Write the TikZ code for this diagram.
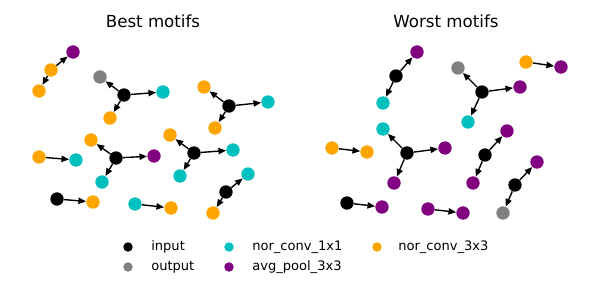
\documentclass[tikz,border=0pt]{standalone}
\usepackage{fontspec}
\setmainfont{DejaVu Sans}
\usetikzlibrary{arrows.meta, positioning}
\definecolor{opblack}{HTML}{000000}
\definecolor{opgray}{HTML}{808080}
\definecolor{opcyan}{HTML}{00BFBF}
\definecolor{oppurple}{HTML}{800080}
\definecolor{oporange}{HTML}{FFA500}
\tikzstyle{op} = [circle, inner sep=0pt, minimum size=9.6pt, draw=none]
\tikzstyle{inp} = [op, fill=opblack]
\tikzstyle{outp} = [op, fill=opgray]
\tikzstyle{one} = [op, fill=opcyan]
\tikzstyle{pool} = [op, fill=oppurple]
\tikzstyle{three} = [op, fill=oporange]
\tikzstyle{arrow} = [line width=1pt, -{Triangle[length=5.5pt, width=4.5pt]}]
\tikzstyle{key} = [circle, inner sep=0pt, minimum size=6.8pt]
\tikzstyle{keytext} = [anchor=mid west, inner sep=0pt, font=\fontsize{9.4}{11}\selectfont]

\begin{document}
\begin{tikzpicture}[x=0.72pt, y=-0.72pt]
\useasboundingbox (0,0) rectangle (600,300);

\node (besttitle) at (153,21) {\fontsize{12}{14}\selectfont Best motifs};
\node (worsttitle) at (446,21) {\fontsize{12}{14}\selectfont Worst motifs};

% best motifs
\node (b1a) [three] at (51,70) {};
\node (b1b) [pool] at (73,52) {};
\node (b1c) [three] at (39,91) {};
\draw[arrow] (b1a) -- (b1b);
\draw[arrow] (b1a) -- (b1c);

\node (b2a) [inp] at (124,95) {};
\node (b2b) [outp] at (100,77) {};
\node (b2c) [one] at (163,92) {};
\node (b2d) [three] at (110,118) {};
\draw[arrow] (b2a) -- (b2b);
\draw[arrow] (b2a) -- (b2c);
\draw[arrow] (b2a) -- (b2d);

\node (b3a) [inp] at (229,106) {};
\node (b3b) [three] at (204,87) {};
\node (b3c) [one] at (268,102) {};
\node (b3d) [three] at (215,128) {};
\draw[arrow] (b3a) -- (b3b);
\draw[arrow] (b3a) -- (b3c);
\draw[arrow] (b3a) -- (b3d);

\node (b4a) [inp] at (116,158) {};
\node (b4b) [three] at (91,140) {};
\node (b4c) [pool] at (154,156) {};
\node (b4d) [one] at (102,182) {};
\draw[arrow] (b4a) -- (b4b);
\draw[arrow] (b4a) -- (b4c);
\draw[arrow] (b4a) -- (b4d);

\node (b5a) [three] at (39,157) {};
\node (b5b) [one] at (76,160) {};
\draw[arrow] (b5a) -- (b5b);

\node (b6a) [inp] at (194,153) {};
\node (b6b) [three] at (170,135) {};
\node (b6c) [one] at (233,150) {};
\node (b6d) [one] at (180,176) {};
\draw[arrow] (b6a) -- (b6b);
\draw[arrow] (b6a) -- (b6c);
\draw[arrow] (b6a) -- (b6d);

\node (b7a) [inp] at (57,199) {};
\node (b7b) [three] at (93,202) {};
\draw[arrow] (b7a) -- (b7b);

\node (b8a) [one] at (135,204) {};
\node (b8b) [three] at (171,208) {};
\draw[arrow] (b8a) -- (b8b);

\node (b9a) [inp] at (226,192) {};
\node (b9b) [one] at (248,174) {};
\node (b9c) [three] at (213,213) {};
\draw[arrow] (b9a) -- (b9b);
\draw[arrow] (b9a) -- (b9c);

% worst motifs
\node (w1a) [inp] at (396,76) {};
\node (w1b) [pool] at (417,52) {};
\node (w1c) [one] at (383,103) {};
\draw[arrow] (w1a) -- (w1b);
\draw[arrow] (w1a) -- (w1c);

\node (w2a) [inp] at (482,92) {};
\node (w2b) [outp] at (458,68) {};
\node (w2c) [pool] at (520,87) {};
\node (w2d) [one] at (468,122) {};
\draw[arrow] (w2a) -- (w2b);
\draw[arrow] (w2a) -- (w2c);
\draw[arrow] (w2a) -- (w2d);

\node (w3a) [three] at (526,62) {};
\node (w3b) [pool] at (561,67) {};
\draw[arrow] (w3a) -- (w3b);

\node (w4a) [inp] at (407,153) {};
\node (w4b) [one] at (383,129) {};
\node (w4c) [pool] at (445,148) {};
\node (w4d) [pool] at (394,183) {};
\draw[arrow] (w4a) -- (w4b);
\draw[arrow] (w4a) -- (w4c);
\draw[arrow] (w4a) -- (w4d);

\node (w5a) [three] at (332,148) {};
\node (w5b) [three] at (367,152) {};
\draw[arrow] (w5a) -- (w5b);

\node (w6a) [inp] at (485,155) {};
\node (w6b) [pool] at (507,131) {};
\node (w6c) [pool] at (473,183) {};
\draw[arrow] (w6a) -- (w6b);
\draw[arrow] (w6a) -- (w6c);

\node (w7a) [inp] at (515,185) {};
\node (w7b) [pool] at (537,162) {};
\node (w7c) [outp] at (503,213) {};
\draw[arrow] (w7a) -- (w7b);
\draw[arrow] (w7a) -- (w7c);

\node (w8a) [inp] at (347,203) {};
\node (w8b) [pool] at (382,207) {};
\draw[arrow] (w8a) -- (w8b);

\node (w9a) [pool] at (428,209) {};
\node (w9b) [pool] at (463,213) {};
\draw[arrow] (w9a) -- (w9b);

% legend
\node (kinp) [key, fill=opblack] at (128,247) {};
\node (kout) [key, fill=opgray] at (128,267) {};
\node (kone) [key, fill=opcyan] at (229,247) {};
\node (kpool) [key, fill=oppurple] at (229,267) {};
\node (kthree) [key, fill=oporange] at (377,247) {};
\node (tinp) [keytext] at (151,247) {input};
\node (tout) [keytext] at (151,267) {output};
\node (tone) [keytext] at (252,247) {nor\_conv\_1x1};
\node (tpool) [keytext] at (252,267) {avg\_pool\_3x3};
\node (tthree) [keytext] at (398,247) {nor\_conv\_3x3};

\end{tikzpicture}
\end{document}
